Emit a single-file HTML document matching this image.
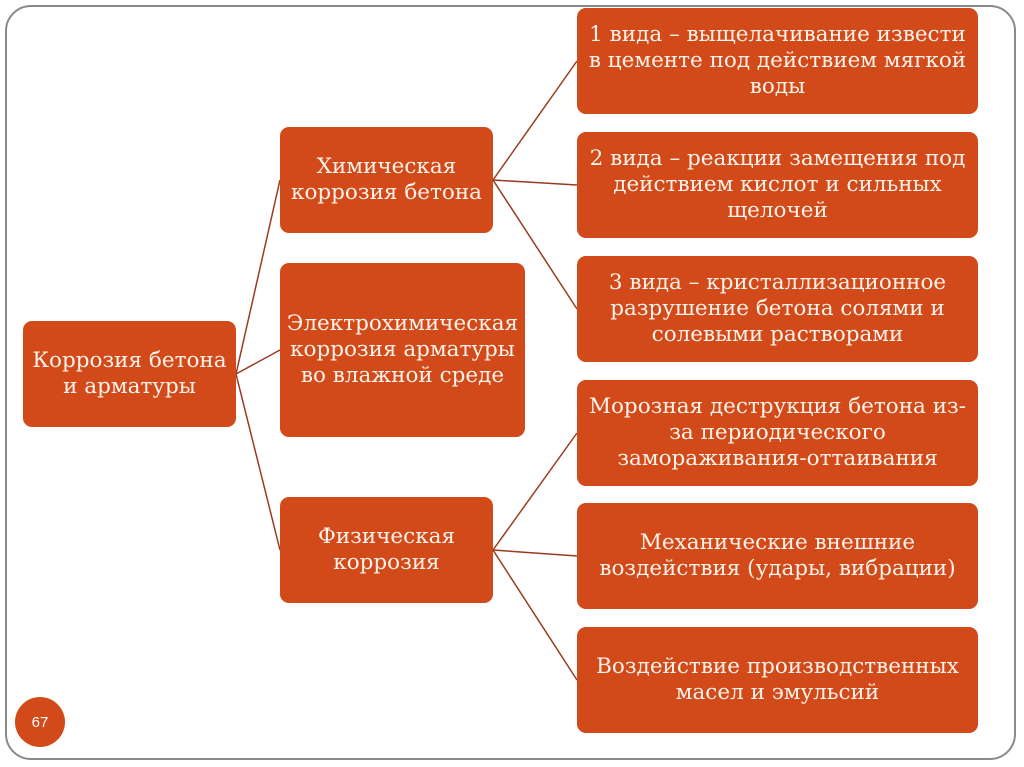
<!DOCTYPE html>
<html><head><meta charset="utf-8"><style>
body{margin:0;width:1024px;height:767px;background:#fff;position:relative;overflow:hidden;font-family:"DejaVu Serif","Liberation Serif",serif;}
.frame{position:absolute;left:5px;top:5px;width:1011px;height:755px;border:2px solid #8a8a8a;border-radius:26px;box-sizing:border-box;}
.b{position:absolute;background:#d24a19;color:#fdf3ea;border-radius:9px;display:flex;align-items:center;justify-content:center;text-align:center;font-size:21.5px;line-height:26px;box-sizing:border-box;padding:0;white-space:nowrap;}
.c{position:absolute;left:15px;top:697px;width:50px;height:50px;border-radius:50%;background:#d24a19;color:#fff;font-family:"Liberation Sans",sans-serif;font-size:15px;display:flex;align-items:center;justify-content:center;}
svg{position:absolute;left:0;top:0;}
</style></head><body>
<div class="frame"></div>
<svg width="1024" height="767"><g stroke="#9b3a20" stroke-width="1.5" fill="none">
<line x1="236" y1="374" x2="280" y2="180"/><line x1="236" y1="374" x2="280" y2="350"/><line x1="236" y1="374" x2="280" y2="550"/>
<line x1="493" y1="180" x2="577" y2="61"/><line x1="493" y1="180" x2="577" y2="185"/><line x1="493" y1="180" x2="577" y2="309"/>
<line x1="493" y1="550" x2="577" y2="433"/><line x1="493" y1="550" x2="577" y2="556"/><line x1="493" y1="550" x2="577" y2="680"/>
</g></svg>
<div class="b" style="left:23px;top:321px;width:213px;height:106px">Коррозия бетона<br>и арматуры</div>
<div class="b" style="left:280px;top:127px;width:213px;height:106px">Химическая<br>коррозия бетона</div>
<div class="b" style="left:280px;top:263px;width:245px;height:174px">Электрохимическая<br>коррозия арматуры<br>во влажной среде</div>
<div class="b" style="left:280px;top:497px;width:213px;height:106px">Физическая<br>коррозия</div>
<div class="b" style="left:577px;top:8px;width:401px;height:106px">1 вида – выщелачивание извести<br>в цементе под действием мягкой<br>воды</div>
<div class="b" style="left:577px;top:132px;width:401px;height:106px">2 вида – реакции замещения под<br>действием кислот и сильных<br>щелочей</div>
<div class="b" style="left:577px;top:256px;width:401px;height:106px">3 вида – кристаллизационное<br>разрушение бетона солями и<br>солевыми растворами</div>
<div class="b" style="left:577px;top:380px;width:401px;height:106px">Морозная деструкция бетона из-<br>за периодического<br>замораживания-оттаивания</div>
<div class="b" style="left:577px;top:503px;width:401px;height:106px">Механические внешние<br>воздействия (удары, вибрации)</div>
<div class="b" style="left:577px;top:627px;width:401px;height:106px">Воздействие производственных<br>масел и эмульсий</div>
<div class="c">67</div>
</body></html>
